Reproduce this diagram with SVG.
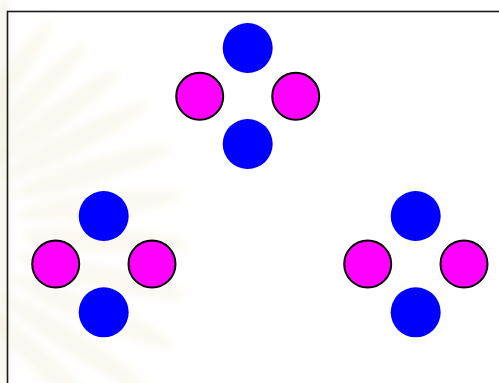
<svg xmlns="http://www.w3.org/2000/svg" width="499" height="383" viewBox="0 0 499 383">
  <defs>
    <style>
      .blue { fill: #0000ff; stroke: none; }
      .mag { fill: #ff00ff; stroke: #000000; stroke-width: 2; }
      .ray { fill: #ede3c0; opacity: 0.22; }
    </style>
    <filter id="soft" x="-20%" y="-20%" width="140%" height="140%">
      <feGaussianBlur stdDeviation="4"/>
    </filter>
  </defs>
  <rect x="0" y="0" width="499" height="383" fill="#ffffff"/>
  <g id="watermark" filter="url(#soft)">
    <rect x="0" y="0" width="8" height="383" fill="#f6f3ea"/>
    <g transform="translate(-100,230)">
      <ellipse class="ray" cx="180" cy="0" rx="78" ry="11" transform="rotate(-54)"/>
      <ellipse class="ray" cx="185" cy="0" rx="80" ry="11" transform="rotate(-45)"/>
      <ellipse class="ray" cx="190" cy="0" rx="82" ry="12" transform="rotate(-36)"/>
      <ellipse class="ray" cx="195" cy="0" rx="84" ry="12" transform="rotate(-27)"/>
      <ellipse class="ray" cx="200" cy="0" rx="85" ry="12" transform="rotate(-17)"/>
      <ellipse class="ray" cx="200" cy="0" rx="85" ry="12" transform="rotate(-7)"/>
      <ellipse class="ray" cx="205" cy="0" rx="85" ry="12" transform="rotate(3)"/>
      <ellipse class="ray" cx="205" cy="0" rx="88" ry="12" transform="rotate(13)"/>
      <ellipse class="ray" cx="208" cy="0" rx="90" ry="12" transform="rotate(23)"/>
      <ellipse class="ray" cx="208" cy="0" rx="90" ry="12" transform="rotate(33)"/>
      <ellipse class="ray" cx="208" cy="0" rx="90" ry="12" transform="rotate(43)"/>
    </g>
  </g>
  <rect id="frame" x="7.5" y="11.5" width="500" height="380" fill="none" stroke="#1a1a1a" stroke-width="1.6"/>
  <g id="group-top">
    <g id="top-n"><circle class="blue" cx="247.7" cy="48" r="25"/></g>
    <g id="top-w"><circle class="mag" cx="199.7" cy="96.3" r="23.5"/></g>
    <g id="top-e"><circle class="mag" cx="295.7" cy="96.3" r="23.5"/></g>
    <g id="top-s"><circle class="blue" cx="247.7" cy="144" r="25"/></g>
  </g>
  <g id="group-left">
    <g id="left-n"><circle class="blue" cx="103.7" cy="216" r="25"/></g>
    <g id="left-w"><circle class="mag" cx="55.7" cy="264" r="23.5"/></g>
    <g id="left-e"><circle class="mag" cx="152" cy="264" r="23.5"/></g>
    <g id="left-s"><circle class="blue" cx="103.7" cy="312.3" r="25"/></g>
  </g>
  <g id="group-right">
    <g id="right-n"><circle class="blue" cx="415.7" cy="216" r="25"/></g>
    <g id="right-w"><circle class="mag" cx="367.7" cy="264" r="23.5"/></g>
    <g id="right-e"><circle class="mag" cx="464" cy="264" r="23.5"/></g>
    <g id="right-s"><circle class="blue" cx="415.7" cy="312.3" r="25"/></g>
  </g>
</svg>
